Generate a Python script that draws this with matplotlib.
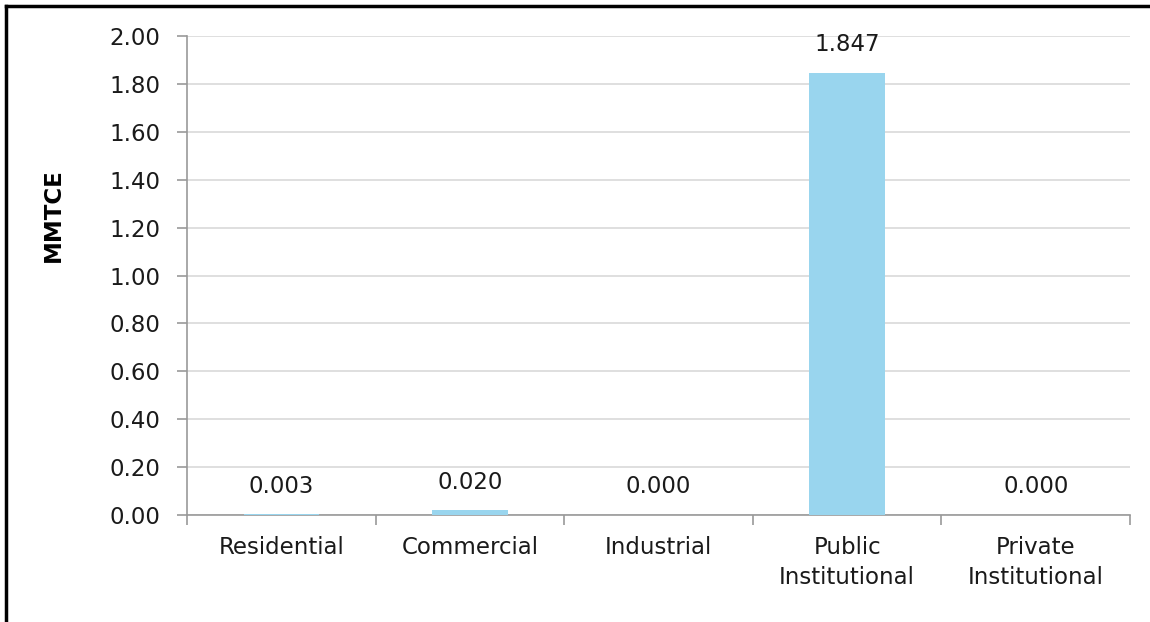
import matplotlib
matplotlib.use("Agg")
import matplotlib.pyplot as plt
from matplotlib.lines import Line2D
import numpy as np

categories = ["Residential", "Commercial", "Industrial", "Public\nInstitutional", "Private\nInstitutional"]
values = [0.003, 0.020, 0.000, 1.847, 0.000]
y_ticks = [0.00, 0.20, 0.40, 0.60, 0.80, 1.00, 1.20, 1.40, 1.60, 1.80, 2.00]

plt.rcParams["font.family"] = ["DejaVu Sans"]
FS = 16.5

fig = plt.figure(figsize=(11.5, 6.22), dpi=100)
ax = fig.add_axes([0.1626, 0.172, 0.82, 0.7701])

x = np.arange(len(categories))
ax.bar(x, values, width=0.4, color="#99D5EE", zorder=3)

for xi, v in zip(x, values):
    ax.annotate(f"{v:.3f}", (xi, v), xytext=(0, 12), textcoords="offset points",
                ha="center", va="bottom", fontsize=FS, color="#1a1a1a")

ax.set_xlim(-0.5, len(categories) - 0.5)
ax.set_ylim(0, 2.0)
ax.set_yticks(y_ticks)
ax.set_yticklabels([f"{t:.2f}" for t in y_ticks])
ax.yaxis.grid(True, color="#d9d9d9", linewidth=1.2, zorder=0)

# category labels centred between boundary ticks
ax.set_xticks(np.arange(-0.5, len(categories), 1.0))
ax.set_xticklabels([])
ax.set_xticks(x, minor=True)
ax.set_xticklabels(categories, minor=True, fontsize=FS, color="#1a1a1a", linespacing=1.4)
ax.tick_params(axis="x", which="minor", length=0, pad=15)
ax.tick_params(axis="x", which="major", length=7, color="#999999", width=1.2)
ax.tick_params(axis="y", length=7, color="#999999", width=1.2, labelsize=FS,
               labelcolor="#1a1a1a", pad=12)

for side in ["top", "right"]:
    ax.spines[side].set_visible(False)
for side in ["left", "bottom"]:
    ax.spines[side].set_color("#999999")
    ax.spines[side].set_linewidth(1.2)

ax.set_ylabel("MMTCE", fontsize=FS, fontweight="bold", va="center", ha="center")
ax.yaxis.set_label_coords(-0.142, 0.626)

# frame lines along the top and left edge of the figure
fig.add_artist(Line2D([0.0055, 1.0], [1 - 6 / 622, 1 - 6 / 622], color="black", linewidth=2.5,
                      transform=fig.transFigure))
fig.add_artist(Line2D([0.0055, 0.0055], [0.0, 1 - 6 / 622], color="black", linewidth=2.5,
                      transform=fig.transFigure))

fig.savefig("out.png", dpi=100)
